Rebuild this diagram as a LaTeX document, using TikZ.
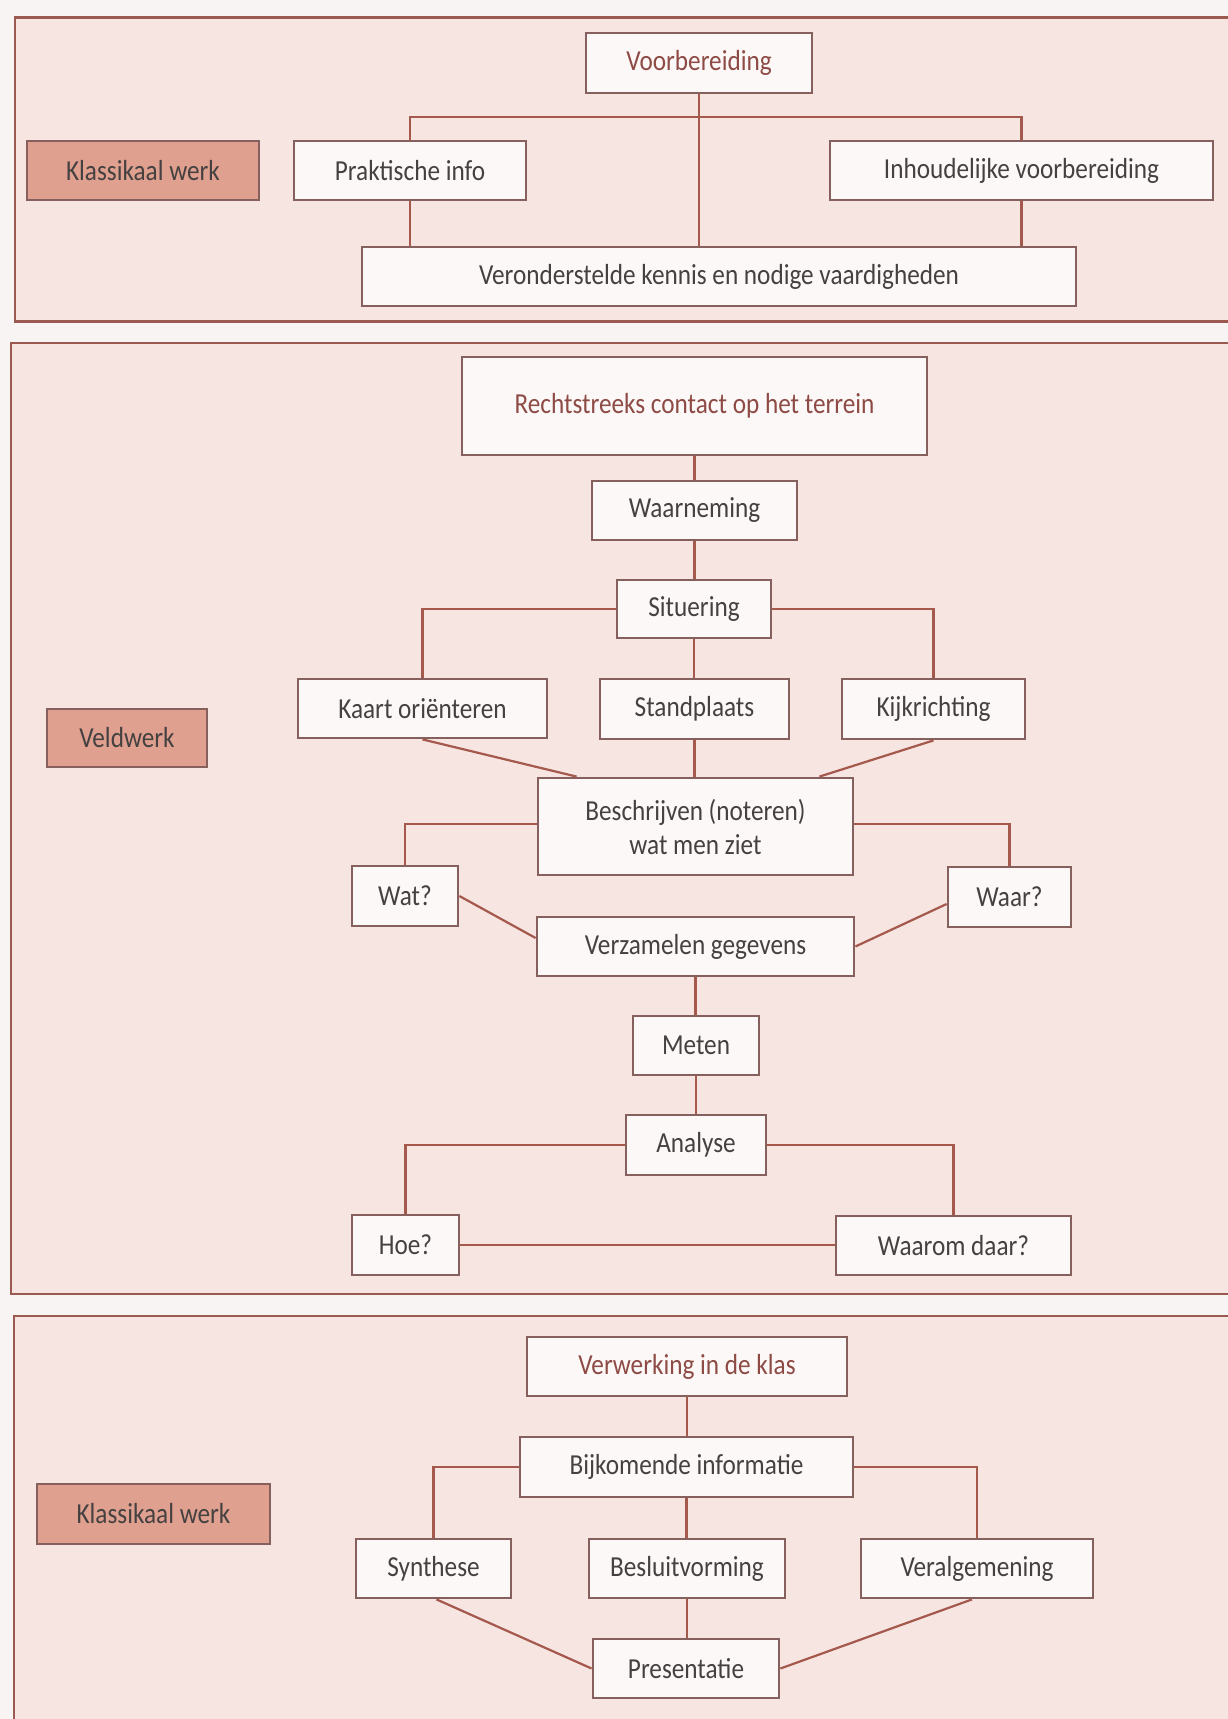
\documentclass[tikz,border=0pt]{standalone}
\usepackage{fontspec}
\setmainfont{Carlito}[FakeStretch=0.87]
\usetikzlibrary{calc}
\definecolor{pagebg}{HTML}{F8F4F3}
\definecolor{panelbg}{HTML}{F6E5E1}
\definecolor{panelline}{HTML}{9A5A52}
\definecolor{boxfill}{HTML}{FBF8F7}
\definecolor{boxline}{HTML}{85605C}
\definecolor{conn}{HTML}{A5584C}
\definecolor{labelfill}{HTML}{DFA08F}
\definecolor{txt}{HTML}{454141}
\definecolor{headtxt}{HTML}{8E4A44}
\tikzset{
  panel/.style={fill=panelbg, draw=panelline, line width=2.8pt},
  box/.style={rectangle, draw=boxline, fill=boxfill, line width=2.8pt, inner sep=0pt,
    text=txt, font=\fontsize{29}{34}\selectfont, align=center},
  headbox/.style={box, text=headtxt},
  labelbox/.style={box, fill=labelfill},
  link/.style={draw=conn, line width=2.2pt}
}
\begin{document}
\begin{tikzpicture}[x=1pt,y=-1pt]
\useasboundingbox (0,0) rectangle (1228,1719);
\fill[pagebg] (0,0) rectangle (1228,1719);
\begin{scope}
\clip (0,0) rectangle (1228,1719);
\draw[panel] (15,17.5) rectangle (1240,321.5);
\draw[panel] (11,343) rectangle (1240,1294);
\draw[panel] (14,1316) rectangle (1240,1740);
\end{scope}

% ---------- top panel ----------
\node[labelbox, minimum width=232pt, minimum height=59pt] (klas1) at (143,170.5) {Klassikaal werk};
\node[headbox, minimum width=226pt, minimum height=60pt] (voor) at (699,63) {Voorbereiding};
\node[box, minimum width=232pt, minimum height=59pt] (prak) at (410,170.5) {Praktische info};
\node[box, minimum width=383pt, minimum height=59pt] (inh) at (1021.5,170.5) {Inhoudelijke voorbereiding};
\node[box, minimum width=714pt, minimum height=59pt] (veron) at (719,276.5) {Veronderstelde kennis en nodige vaardigheden};
\coordinate (bus1) at (699,117);

% ---------- middle panel ----------
\node[labelbox, minimum width=160pt, minimum height=58pt] (veld) at (127,738) {Veldwerk};
\node[headbox, minimum width=465pt, minimum height=98pt] (recht) at (694.5,406) {Rechtstreeks contact op het terrein};
\node[box, minimum width=205pt, minimum height=59pt] (waarn) at (694.5,510.5) {Waarneming};
\node[box, minimum width=154pt, minimum height=58pt] (sit) at (694,609) {Situering};
\node[box, minimum width=249pt, minimum height=59pt] (kaart) at (422.5,708.5) {Kaart oriënteren};
\node[box, minimum width=189pt, minimum height=60pt] (stand) at (694.5,709) {Standplaats};
\node[box, minimum width=183pt, minimum height=60pt] (kijk) at (933.5,709) {Kijkrichting};
\node[box, minimum width=315pt, minimum height=97pt] (besch) at (695.5,826.5) {Beschrijven (noteren)\\wat men ziet};
\node[box, minimum width=106pt, minimum height=60pt] (wat) at (405,896) {Wat?};
\node[box, minimum width=123pt, minimum height=60pt] (waar) at (1009.5,897) {Waar?};
\node[box, minimum width=317pt, minimum height=59pt] (verz) at (695.5,946.5) {Verzamelen gegevens};
\node[box, minimum width=126pt, minimum height=59pt] (meten) at (696,1045.5) {Meten};
\node[box, minimum width=140pt, minimum height=60pt] (anal) at (696,1145) {Analyse};
\node[box, minimum width=107pt, minimum height=60pt] (hoe) at (405.5,1245) {Hoe?};
\node[box, minimum width=235pt, minimum height=59pt] (waarom) at (953.5,1245.5) {Waarom daar?};

% ---------- bottom panel ----------
\node[labelbox, minimum width=233pt, minimum height=60pt] (klas2) at (153.5,1514) {Klassikaal werk};
\node[headbox, minimum width=320pt, minimum height=59pt] (verw) at (687,1366.5) {Verwerking in de klas};
\node[box, minimum width=333pt, minimum height=60pt] (bijk) at (686.5,1467) {Bijkomende informatie};
\node[box, minimum width=155pt, minimum height=59pt] (synth) at (433.5,1568.5) {Synthese};
\node[box, minimum width=196pt, minimum height=59pt] (besl) at (687,1568.5) {Besluitvorming};
\node[box, minimum width=232pt, minimum height=59pt] (veral) at (977,1568.5) {Veralgemening};
\node[box, minimum width=186pt, minimum height=59pt] (pres) at (686,1668.5) {Presentatie};

% ---------- connectors ----------
\path[link] (prak.north) |- (bus1) -| (inh.north);
\path[link] (voor.south) -- (voor.south |- veron.north);
\path[link] (prak.south) -- (prak.south |- veron.north);
\path[link] (inh.south) -- (inh.south |- veron.north);

\path[link] (recht.south) -- (recht.south |- waarn.north);
\path[link] (waarn.south) -- (waarn.south |- sit.north);
\path[link] (sit.west) -| (kaart.north);
\path[link] (sit.east) -| (kijk.north);
\path[link] (sit.south) -- (sit.south |- stand.north);
\path[link] (kaart.south) -- ($(besch.north west)+(40,0)$);
\path[link] (stand.south) -- (stand.south |- besch.north);
\path[link] (kijk.south) -- ($(besch.north east)+(-35,0)$);
\path[link] ($(besch.west)+(0,-2.5)$) -| (wat.north);
\path[link] ($(besch.east)+(0,-2.5)$) -| (waar.north);
\path[link] (wat.east) -- ($(verz.west)+(0,-8.5)$);
\path[link] ($(waar.west)+(0,7)$) -- (verz.east);
\path[link] (verz.south) -- (verz.south |- meten.north);
\path[link] (meten.south) -- (meten.south |- anal.north);
\path[link] (anal.west) -| (hoe.north);
\path[link] (anal.east) -| (waarom.north);
\path[link] (hoe.east) -- (hoe.east -| waarom.west);

\path[link] (verw.south) -- (verw.south |- bijk.north);
\path[link] (bijk.west) -| (synth.north);
\path[link] (bijk.east) -| (veral.north);
\path[link] (bijk.south) -- (bijk.south |- besl.north);
\path[link] (besl.south) -- (besl.south |- pres.north);
\path[link] ($(synth.south)+(3,0)$) -- (pres.west);
\path[link] ($(veral.south)+(-5,0)$) -- (pres.east);
\end{tikzpicture}
\end{document}
